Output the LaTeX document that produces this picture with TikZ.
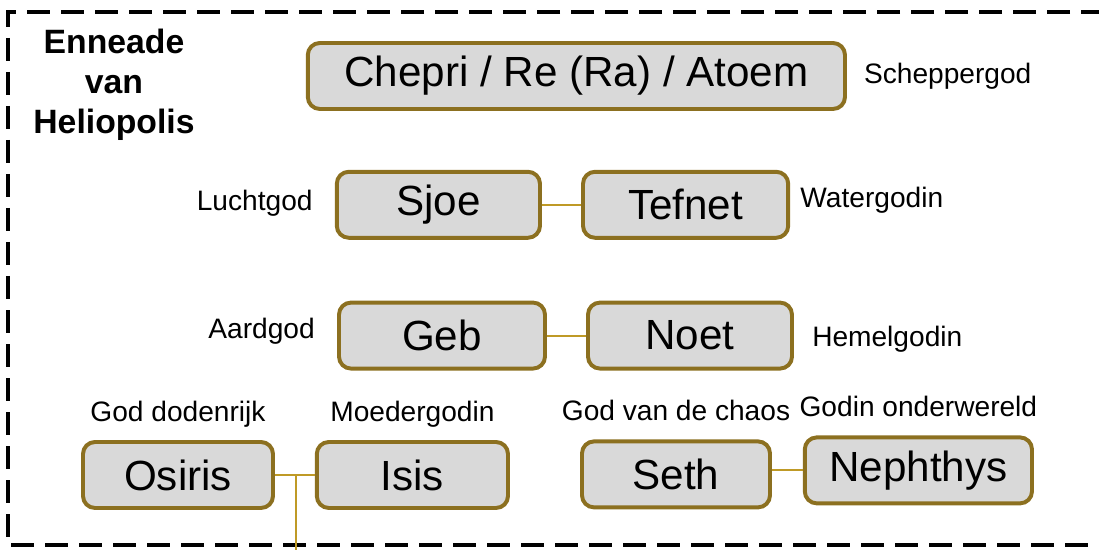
\documentclass[tikz,border=0pt]{standalone}
\usepackage{fontspec}
\setmainfont{Liberation Sans}
\usetikzlibrary{positioning}
\definecolor{godborder}{HTML}{8C7020}
\definecolor{godfill}{HTML}{D9D9D9}
\definecolor{godline}{HTML}{BF9A26}

\begin{document}
\begin{tikzpicture}[
        god/.style={draw=godborder, fill=godfill, line width=2.8pt, rounded corners=0.3cm,
            minimum height=1.65cm, inner sep=0pt, font=\fontsize{30}{36}\selectfont},
        role/.style={inner sep=0pt, font=\fontsize{20}{24}\selectfont},
        link/.style={draw=godline, line width=1.5pt}
    ]
            \useasboundingbox (0,0) rectangle (27.475,13.75);

            % Frame
            \draw[line width=3.5pt, dash pattern=on 0.58cm off 0.27cm]
                (27.6,13.45) -- (0.2,13.45) -- (0.2,0.125) -- (27.6,0.125);

            % Title
            \node[align=center, font=\bfseries\fontsize{24}{28.5}\selectfont] (title) at (2.85,11.62)
                {Enneade\\van\\Heliopolis};

            % Gods
            \node[god, minimum width=13.43cm] (atoem) at (14.41,11.85) {Chepri / Re (Ra) / Atoem};
            \node[god, minimum width=5.08cm] (sjoe) at (10.96,8.63) {Sjoe};
            \node[god, minimum width=5.13cm] (tefnet) at (17.14,8.63) {Tefnet};
            \node[god, minimum width=5.15cm] (geb) at (11.05,5.36) {Geb};
            \node[god, minimum width=5.1cm] (noet) at (17.25,5.36) {Noet};
            \node[god, minimum width=4.75cm] (osiris) at (4.45,1.875) {Osiris};
            \node[god, minimum width=4.78cm] (isis) at (10.31,1.875) {Isis};
            \node[god, minimum width=4.7cm] (seth) at (16.9,1.89) {Seth};
            \node[god, minimum width=5.68cm] (nephthys) at (22.96,1.99) {Nephthys};

            % Labels
            \node[role, right=0.42cm of atoem] (schepper) {Scheppergod};
            \node[role, left=0.55cm of sjoe, yshift=0.05cm] (lucht) {Luchtgod};
            \node[role, right=0.25cm of tefnet, yshift=0.12cm] (water) {Watergodin};
            \node[role, left=0.55cm of geb, yshift=0.1cm] (aard) {Aardgod};
            \node[role, right=0.45cm of noet, yshift=-0.1cm] (hemel) {Hemelgodin};
            \node[role, above=0.3cm of osiris] (doden) {God dodenrijk};
            \node[role, above=0.3cm of isis] (moeder) {Moedergodin};
            \node[role, above=0.45cm of seth] (chaos) {God van de chaos};
            \node[role, above=0.45cm of nephthys] (onder) {Godin onderwereld};

            % Links
            \draw[link] (sjoe) -- (tefnet);
            \draw[link] (geb) -- (noet);
            \draw[link] (osiris) -- (isis);
            \draw[link] (nephthys.west) -- (nephthys.west -| seth.east);
            \coordinate (child) at (7.4,0);
            \draw[link] (child |- osiris) -- (child);
        \end{tikzpicture}
\end{document}
